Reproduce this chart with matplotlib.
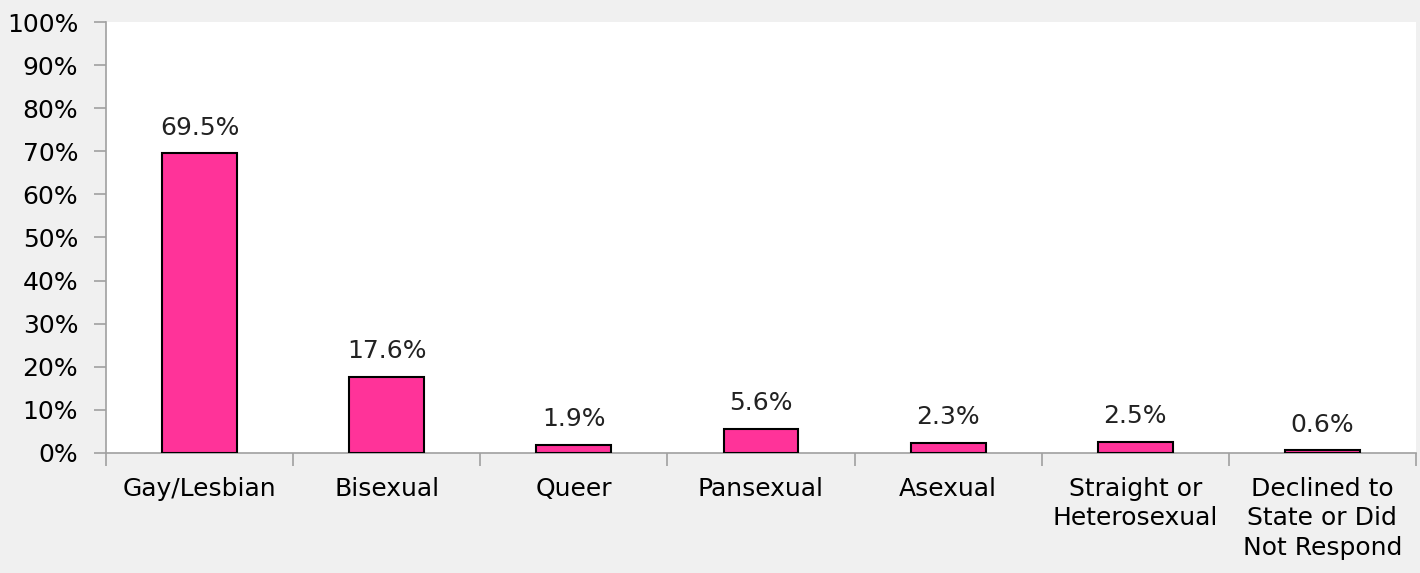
import matplotlib.pyplot as plt
import numpy as np

categories = ['Gay/Lesbian', 'Bisexual', 'Queer', 'Pansexual', 'Asexual',
              'Straight or\nHeterosexual', 'Declined to\nState or Did\nNot Respond']
values = [69.5, 17.6, 1.9, 5.6, 2.3, 2.5, 0.6]

plt.rcParams['font.family'] = ['DejaVu Sans']

fig = plt.figure(figsize=(14.2, 5.73), dpi=100)
fig.patch.set_facecolor('#F0F0F0')
ax = fig.add_axes([106 / 1420, 1 - 453 / 573, 1310 / 1420, 431 / 573])
ax.set_facecolor('white')

x = np.arange(len(categories))
ax.bar(x, values, width=0.4, color='#FF3399', edgecolor='black', linewidth=1.5, zorder=3)

for xi, v in zip(x, values):
    ax.text(xi, v + 3.2, f'{v:.1f}%', ha='center', va='bottom', fontsize=18, color='#222222')

ax.set_xlim(-0.5, len(categories) - 0.5)
ax.set_ylim(0, 100)
ax.set_yticks(np.arange(0, 101, 10))
ax.set_yticklabels([f'{t}%' for t in range(0, 101, 10)], fontsize=18)

ax.set_xticks(x)
ax.set_xticklabels(categories, fontsize=18, va='top', linespacing=1.3)
ax.set_xticks(np.arange(-0.5, len(categories)), minor=True)
ax.tick_params(axis='x', which='major', length=0, pad=17)
ax.tick_params(axis='x', which='minor', length=9, color='#A0A0A0', width=1.2)
ax.tick_params(axis='y', length=9, color='#A0A0A0', width=1.2, pad=11)

for s in ['top', 'right']:
    ax.spines[s].set_visible(False)
for s in ['left', 'bottom']:
    ax.spines[s].set_color('#A0A0A0')
    ax.spines[s].set_linewidth(1.2)

fig.savefig('out.png', dpi=100, facecolor=fig.get_facecolor())
